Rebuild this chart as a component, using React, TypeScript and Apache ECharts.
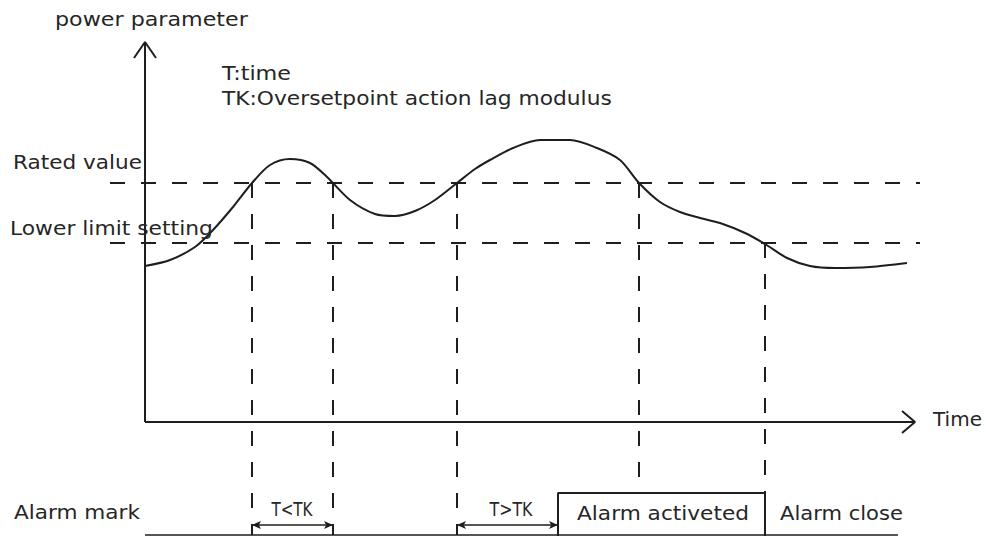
import React, { useEffect, useRef } from "react";
import * as echarts from "echarts";

// Diagram units: time (x) measured from the origin, power parameter (y) measured from the time axis.
const curveTime = [0, 25, 50, 68, 88, 107, 125, 145, 165, 182, 205, 230, 250, 270, 290, 312, 330, 345, 368, 395, 425, 452, 475, 494, 515, 535, 555, 575, 600, 620, 642, 665, 690, 725, 762];
const curvePower = [156, 162, 175, 192, 215, 239, 257, 263, 259, 245, 222, 208, 206, 211, 222, 239, 253, 262, 274, 282, 282, 274, 262, 239, 220, 210, 204, 199, 189, 178, 164, 156, 154, 155, 159];

const ratedValue = 239;
const lowerLimit = 179;
const thresholdSpan = [-35, 775];

// crossing times and the level where each guide starts / ends
const crossTimes = [107, 188, 312, 494, 620];
const crossStart = [239, 239, 239, 239, 179];
const crossEnd = [-113, -113, -113, -71, -71];

const yAxisTop = 380;
const xAxisEnd = 770;

const alarmStart = 413;
const alarmEnd = 620;
const alarmTop = -71;
const alarmBottom = -114;
const baseLevel = -113;
const baseEnd = 753;
const dimLevel = -103;

const X_MIN = -145;
const X_MAX = 841;
const Y_MIN = -114;
const Y_MAX = 422;

const FONT = '"DejaVu Sans", Verdana, sans-serif';
const INK = "#1e1e1e";
const TEXT = "#262626";

type Label = { text: string; x: number; y: number; w: number; size: number; align: "left" | "center" };
const labels: Label[] = [
  { text: "power parameter", x: 55, y: 20, w: 193, size: 19, align: "left" },
  { text: "T:time", x: 222, y: 74, w: 69, size: 19, align: "left" },
  { text: "TK:Oversetpoint action lag modulus", x: 222, y: 98, w: 390, size: 19, align: "left" },
  { text: "Rated value", x: 13, y: 162, w: 129, size: 19, align: "left" },
  { text: "Lower limit setting", x: 10, y: 229, w: 203, size: 19, align: "left" },
  { text: "Time", x: 933, y: 420, w: 49, size: 19, align: "left" },
  { text: "Alarm mark", x: 14, y: 512, w: 126, size: 19, align: "left" },
  { text: "Alarm activeted", x: 663, y: 513, w: 172, size: 19, align: "center" },
  { text: "Alarm close", x: 780, y: 513, w: 123, size: 19, align: "left" },
  { text: "T<TK", x: 292, y: 509, w: 41, size: 20, align: "center" },
  { text: "T>TK", x: 511, y: 509, w: 43, size: 20, align: "center" },
];

function measure(text: string, size: number): number {
  const ctx = document.createElement("canvas").getContext("2d");
  if (!ctx) return text.length * size * 0.6;
  ctx.font = `${size}px ${FONT}`;
  return ctx.measureText(text).width || text.length * size * 0.6;
}

const solid = { color: INK, width: 2, type: "solid" as const };
const dashed = { color: INK, width: 2, type: [15, 16] as number[] };

function seg(name: string, pts: number[][], lineStyle: any) {
  return {
    name,
    type: "line",
    data: pts,
    symbol: "none",
    smooth: false,
    silent: true,
    lineStyle,
    z: 2,
  };
}

export default function App() {
  const ref = useRef<HTMLDivElement>(null);

  useEffect(() => {
    document.body.style.margin = "0";
    if (!ref.current) return;
    const chart = echarts.init(ref.current, undefined, { renderer: "svg" });

    const series: any[] = [];
    series.push({
      name: "power parameter",
      type: "line",
      data: curveTime.map((t, i) => [t, curvePower[i]]),
      symbol: "none",
      smooth: 0.3,
      silent: true,
      lineStyle: { color: INK, width: 2 },
      z: 3,
    });
    series.push(seg("Rated value", [[thresholdSpan[0], ratedValue], [thresholdSpan[1], ratedValue]], dashed));
    series.push(seg("Lower limit setting", [[thresholdSpan[0], lowerLimit], [thresholdSpan[1], lowerLimit]], dashed));
    crossTimes.forEach((t, i) => {
      series.push(seg("guide" + i, [[t, crossStart[i]], [t, crossEnd[i]]], dashed));
    });
    series.push(seg("y axis", [[0, 0], [0, yAxisTop]], solid));
    series.push(seg("y arrow", [[-11, yAxisTop - 16], [0, yAxisTop], [11, yAxisTop - 16]], solid));
    series.push(seg("x axis", [[0, 0], [xAxisEnd, 0]], solid));
    series.push(seg("x arrow", [[xAxisEnd - 13, 11], [xAxisEnd, 0], [xAxisEnd - 13, -11]], solid));
    series.push(
      seg(
        "alarm box",
        [[alarmStart, alarmBottom], [alarmStart, alarmTop], [alarmEnd, alarmTop], [alarmEnd, alarmBottom]],
        solid
      )
    );
    series.push({
      ...seg("baseline", [[0, baseLevel], [baseEnd, baseLevel]], { color: INK, width: 1.5 }),
      markLine: {
        silent: true,
        symbol: ["arrow", "arrow"],
        symbolSize: [6, 9],
        label: { show: false },
        lineStyle: { color: INK, width: 1.5, type: "solid" },
        emphasis: { disabled: true },
        data: [
          [{ coord: [crossTimes[0], dimLevel] }, { coord: [crossTimes[1], dimLevel] }],
          [{ coord: [crossTimes[2], dimLevel] }, { coord: [alarmStart, dimLevel] }],
        ],
      },
    });

    const graphic = labels.map((l) => {
      const mw = measure(l.text, l.size);
      return {
        type: "text",
        x: l.x,
        y: l.y,
        scaleX: l.w / mw,
        silent: true,
        z: 10,
        style: {
          text: l.text,
          fontSize: l.size,
          fontFamily: FONT,
          fill: TEXT,
          align: l.align,
          verticalAlign: "middle",
        },
      };
    });

    chart.setOption({
      animation: false,
      backgroundColor: "#ffffff",
      grid: { left: 0, right: 0, top: 0, bottom: 0, containLabel: false },
      xAxis: { type: "value", min: X_MIN, max: X_MAX, show: false },
      yAxis: { type: "value", min: Y_MIN, max: Y_MAX, show: false },
      tooltip: { show: false },
      series,
      graphic,
    });

    return () => chart.dispose();
  }, []);

  return <div ref={ref} style={{ width: 986, height: 536, background: "#fff" }} />;
}
